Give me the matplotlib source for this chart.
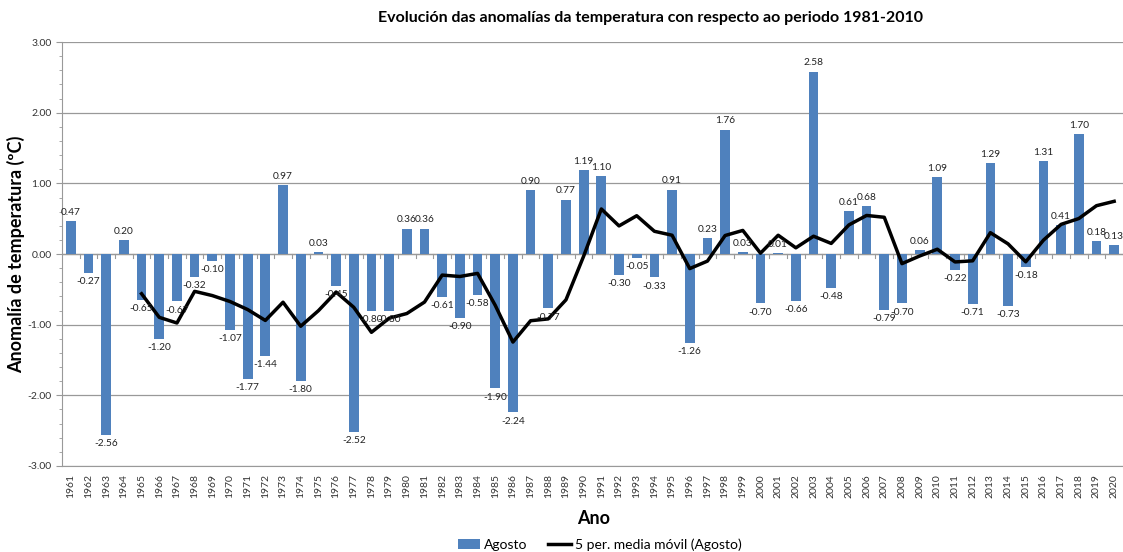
import matplotlib
matplotlib.use("Agg")
import matplotlib.pyplot as plt
from matplotlib.ticker import MultipleLocator

plt.rcParams['font.family'] = ['Lato', 'DejaVu Sans']

# Data
years = list(range(1961, 2021))
agosto = [0.47, -0.27, -2.56, 0.20, -0.65, -1.20, -0.67, -0.32, -0.10, -1.07,
          -1.77, -1.44, 0.97, -1.80, 0.03, -0.45, -2.52, -0.80, -0.80, 0.36,
          0.36, -0.61, -0.90, -0.58, -1.90, -2.24, 0.90, -0.77, 0.77, 1.19,
          1.10, -0.30, -0.05, -0.33, 0.91, -1.26, 0.23, 1.76, 0.03, -0.70,
          0.01, -0.66, 2.58, -0.48, 0.61, 0.68, -0.79, -0.70, 0.06, 1.09,
          -0.22, -0.71, 1.29, -0.73, -0.18, 1.31, 0.41, 1.70, 0.18, 0.13]
# 5-period moving average as drawn (from 1965 onwards)
ma_years = list(range(1965, 2021))
ma_vals = [-0.562, -0.896, -0.976, -0.528, -0.588, -0.672, -0.786, -0.940,
           -0.682, -1.022, -0.802, -0.538, -0.754, -1.108, -0.908, -0.842,
           -0.680, -0.298, -0.318, -0.274, -0.726, -1.246, -0.944, -0.918,
           -0.648, -0.030, 0.638, 0.398, 0.542, 0.322, 0.266, -0.206,
           -0.100, 0.262, 0.334, 0.012, 0.266, 0.088, 0.252, 0.150,
           0.412, 0.546, 0.520, -0.136, -0.028, 0.068, -0.112, -0.096,
           0.302, 0.144, -0.110, 0.196, 0.420, 0.502, 0.684, 0.746]

fig = plt.figure(figsize=(11.23, 5.52), dpi=100)
ax = fig.add_axes([0.0552, 0.1558, 0.9448, 0.768])

bars = ax.bar(years, agosto, width=0.55, color="#4F81BD", label="Agosto", zorder=2)
line, = ax.plot(ma_years, ma_vals, color="black", lw=2.5, label="5 per. media móvil (Agosto)", zorder=3)

for x, v in zip(years, agosto):
    if v >= 0:
        ax.text(x, v + 0.06, f"{v:.2f}", ha="center", va="bottom", fontsize=7.3, color="#222222", zorder=4)
    else:
        ax.text(x, v - 0.06, f"{v:.2f}", ha="center", va="top", fontsize=7.3, color="#222222", zorder=4)

ax.set_xlim(1960.5, 2020.5)
ax.set_ylim(-3, 3)
ax.yaxis.set_major_locator(MultipleLocator(1))
ax.yaxis.set_minor_locator(MultipleLocator(0.2))
ax.set_yticklabels([f"{t:.2f}" for t in ax.get_yticks()])
ax.grid(axis="y", which="major", color="#999999", lw=0.9, zorder=0)
ax.axhline(0, color="#999999", lw=0.9, zorder=1)

ax.set_xticks(years)
ax.set_xticklabels([str(y) for y in years], rotation=90, fontsize=7.5, color="#333333")
ax.tick_params(axis="x", length=0, pad=6)
ax.tick_params(axis="y", which="major", labelsize=7.5, labelcolor="#333333", length=4, color="#999999")
ax.tick_params(axis="y", which="minor", length=2, color="#999999")

# small tick marks on the zero line between categories
for x in years[:-1]:
    ax.plot([x + 0.5, x + 0.5], [0, -0.06], color="#999999", lw=0.8, zorder=1)

for s in ["top", "right"]:
    ax.spines[s].set_visible(False)
ax.spines["left"].set_color("#999999")
ax.spines["bottom"].set_color("#999999")

ax.set_ylabel("Anomalía de temperatura (ºC)", fontsize=13, fontweight="bold", labelpad=2)
fig.text(0.529, 0.06, "Ano", ha="center", va="center", fontsize=13, fontweight="bold")
fig.text(0.579, 0.968, "Evolución das anomalías da temperatura con respecto ao periodo 1981-2010",
         ha="center", va="center", fontsize=11.5, fontweight="bold")

fig.legend([bars, line], ["Agosto", "5 per. media móvil (Agosto)"],
           loc="center", bbox_to_anchor=(0.534, 0.013), ncol=2, frameon=False,
           fontsize=10, handlelength=1.6, columnspacing=1.5, handletextpad=0.3)

fig.savefig("out.png", dpi=100)
